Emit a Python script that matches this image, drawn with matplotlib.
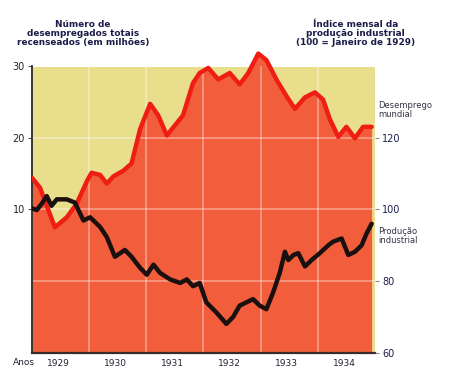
import matplotlib.pyplot as plt

# unemployment (millions), read as (month index from Jan 1929, value)
unemp_month = [0, 1.7, 4.8, 7.3, 9.4, 11.5, 12.5, 14.3, 15.7, 17.1, 19.2, 20.9,
               22.7, 24.8, 26.5, 28.3, 30.0, 31.7, 33.8, 35.2, 37.0, 39.1, 41.5,
               43.6, 45.4, 47.5, 49.2, 51.3, 53.4, 55.2, 57.3, 59.4, 61.1, 62.5,
               64.3, 66.0, 67.8, 69.5, 71.3]
unemp_value = [14.4, 13.0, 7.5, 8.9, 10.8, 13.9, 15.1, 14.8, 13.6, 14.6, 15.4, 16.4,
               21.2, 24.7, 23.1, 20.3, 21.7, 23.1, 27.6, 29.0, 29.7, 28.1, 29.0,
               27.4, 29.0, 31.7, 30.8, 28.1, 25.8, 24.0, 25.6, 26.3, 25.3, 22.6,
               20.1, 21.5, 19.9, 21.5, 21.5]

# industrial production index (100 = Jan 1929)
prod_month = [0, 1.0, 2.0, 3.1, 4.1, 5.2, 7.3, 9.0, 10.8, 12.2, 14.3, 15.7, 17.4,
              19.5, 20.9, 22.7, 24.1, 25.5, 26.9, 29.0, 31.1, 32.5, 33.8, 35.2,
              36.6, 38.7, 40.8, 42.2, 43.6, 45.0, 46.4, 47.8, 49.2, 50.6, 52.0,
              53.1, 53.8, 54.9, 55.9, 57.3, 58.7, 60.4, 62.2, 63.2, 65.0, 66.4,
              67.8, 69.2, 70.2, 71.3]
prod_value = [100.3, 99.8, 101.5, 103.7, 101.0, 102.8, 102.8, 101.9, 96.9, 97.8,
              95.1, 92.3, 86.8, 88.7, 86.8, 83.7, 81.8, 84.6, 82.3, 80.5, 79.5,
              80.5, 78.6, 79.5, 74.1, 71.3, 68.1, 70.0, 73.2, 74.1, 75.0, 73.2,
              72.2, 76.8, 82.3, 88.2, 85.9, 87.3, 87.8, 84.1, 85.9, 87.8, 90.0,
              91.0, 91.9, 87.3, 88.2, 90.0, 93.2, 96.0]

years = ["1929", "1930", "1931", "1932", "1933", "1934"]
left_ticks = [10, 20, 30]
right_ticks = [60, 80, 100, 120]

yellow = "#e9de8c"
red_fill = "#f25e3c"
red_line = "#ee1e14"
navy = "#1c1c4a"

fig = plt.figure(figsize=(4.52, 3.72), dpi=100)
ax = fig.add_axes([0.0708, 0.0511, 0.7588, 0.8145])

ax.set_xlim(0, 72)
ax.set_ylim(-10, 32.2)

ax.axhspan(-10, 29.8, xmin=0, xmax=1, color=yellow, lw=0, zorder=0)
ax.fill_between(unemp_month, unemp_value, -10, color=red_fill, lw=0, zorder=1)

# faint white grid
for m in range(12, 72, 12):
    ax.plot([m, m], [-10, 29.8], color="white", lw=1.2, alpha=0.4, zorder=2)
for v in [0, 10, 20]:
    ax.axhline(v, color="white", lw=1.2, alpha=0.4, zorder=2)

ax.plot(unemp_month, unemp_value, color=red_line, lw=3.2, zorder=3,
        solid_joinstyle="round", solid_capstyle="round")

# production on the right scale: 80 + 2 * left value
ax2 = ax.twinx()
ax2.set_ylim(80 + 2 * -10, 80 + 2 * 32.2)
ax2.plot(prod_month, prod_value, color="#1a1010", lw=3.2, zorder=4,
         solid_joinstyle="round", solid_capstyle="round")
ax2.set_xlim(0, 72)

for a in (ax, ax2):
    for s in a.spines.values():
        s.set_visible(False)
ax.spines["left"].set_visible(True)
ax.spines["left"].set_bounds(-10, 30)
ax.spines["left"].set_color("#2a2a2a")
ax.spines["left"].set_linewidth(1.3)
ax.spines["bottom"].set_visible(True)
ax.spines["bottom"].set_color("#3a2a2a")
ax.spines["bottom"].set_linewidth(1.6)

ax.set_yticks(left_ticks)
ax.set_yticklabels([str(t) for t in left_ticks])
ax.tick_params(axis="y", length=3, width=0.8, pad=2, labelsize=7,
               labelcolor="#222222", color="#555555")
ax.set_xticks([m * 12 + 5.5 for m in range(6)])
ax.set_xticklabels(years)
ax.tick_params(axis="x", length=0, pad=4, labelsize=6.5, labelcolor="#222233")

ax2.set_yticks(right_ticks)
ax2.set_yticklabels([str(t) for t in right_ticks])
ax2.tick_params(axis="y", length=3, width=0.8, pad=2, labelsize=7,
                labelcolor=navy, color="#888888")

fig.text(0.028, 0.018, "Anos", fontsize=6.5, color="#222233")

fig.text(0.183, 0.91, "Número de\ndesempregados totais\nrecenseados (em milhões)",
         ha="center", va="center", fontsize=6.4, fontweight="bold", color=navy,
         linespacing=1.05)
fig.text(0.786, 0.91, "Índice mensal da\nprodução industrial\n(100 = Janeiro de 1929)",
         ha="center", va="center", fontsize=6.4, fontweight="bold", color=navy,
         linespacing=1.05)

fig.text(0.836, 0.705, "Desemprego\nmundial", ha="left", va="center",
         fontsize=6, color="#333344", linespacing=0.95)
fig.text(0.836, 0.365, "Produção\nindustrial", ha="left", va="center",
         fontsize=6, color="#333344", linespacing=0.95)

fig.savefig("out.png", dpi=100)
